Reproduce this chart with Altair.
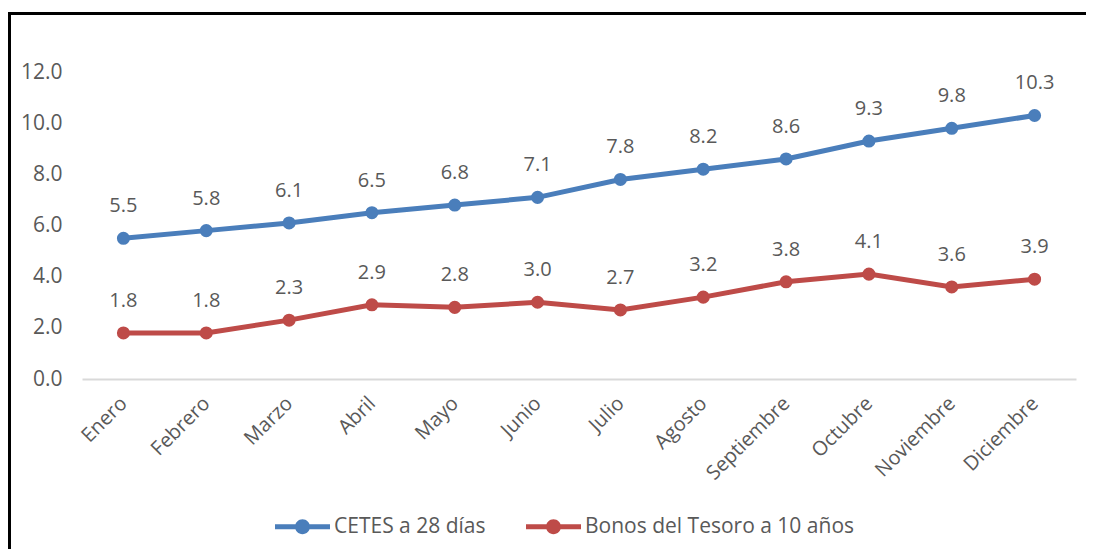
import altair as alt
import pandas as pd

months = ["Enero", "Febrero", "Marzo", "Abril", "Mayo", "Junio", "Julio",
          "Agosto", "Septiembre", "Octubre", "Noviembre", "Diciembre"]
cetes = [5.5, 5.8, 6.1, 6.5, 6.8, 7.1, 7.8, 8.2, 8.6, 9.3, 9.8, 10.3]
bonos = [1.8, 1.8, 2.3, 2.9, 2.8, 3.0, 2.7, 3.2, 3.8, 4.1, 3.6, 3.9]
series_names = ["CETES a 28 días", "Bonos del Tesoro a 10 años"]
series_colors = ["#4A7EBB", "#BE4B48"]
y_ticks = [0, 2, 4, 6, 8, 10, 12]

rows = []
for name, vals in zip(series_names, [cetes, bonos]):
    for m, v in zip(months, vals):
        rows.append({"Mes": m, "Valor": v, "Serie": name})
df = pd.DataFrame(rows)

FONT = "Open Sans"
TXT = "#595959"

x = alt.X("Mes:N", sort=months,
          scale=alt.Scale(type="point", padding=0.5),
          axis=alt.Axis(title=None, labelAngle=-45, labelAlign="right",
                        labelBaseline="middle", labelPadding=21, ticks=False,
                        domainColor="#D9D9D9", domainWidth=2,
                        labelFont=FONT, labelFontSize=20, labelColor=TXT))
y = alt.Y("Valor:Q", scale=alt.Scale(domain=[0, 12], nice=False),
          axis=alt.Axis(title=None, values=y_ticks, format=".1f", grid=False,
                        domain=False, ticks=False, labelPadding=20,
                        labelFont=FONT, labelFontSize=21, labelColor=TXT))

sym = ("M-1,-0.09H1V0.09H-1Z "
       "M0.27,0A0.27,0.27,0,1,1,-0.27,0A0.27,0.27,0,1,1,0.27,0Z")

legend = alt.Legend(title=None, orient="none", direction="horizontal",
                    legendX=193, legendY=427, padding=0,
                    symbolType=sym, symbolSize=3025,
                    symbolStrokeWidth=0, symbolOpacity=1,
                    labelFont=FONT, labelFontSize=21,
                    labelColor=TXT, labelOffset=4,
                    columnPadding=40, labelLimit=400)

color = alt.Color("Serie:N", sort=series_names,
                  scale=alt.Scale(domain=series_names, range=series_colors),
                  legend=legend)

base = alt.Chart(df)

lines = base.mark_line(strokeWidth=5).encode(x=x, y=y, color=color)
points = base.mark_point(filled=True, size=170, opacity=1, shape="circle").encode(
    x=x, y=y, color=color)
labels = base.mark_text(dy=-26, baseline="alphabetic", font=FONT, fontSize=20,
                        color=TXT).encode(
    x=x, y=y, text=alt.Text("Valor:Q", format=".1f"),
)

one = pd.DataFrame({"k": [0]})
frame_top = alt.Chart(one).mark_rule(color="black", strokeWidth=3).encode(
    x=alt.value(-74), x2=alt.value(1010), y=alt.value(-58.5))
frame_left = alt.Chart(one).mark_rule(color="black", strokeWidth=3).encode(
    x=alt.value(-72.5), y=alt.value(-60), y2=alt.value(480))

chart = alt.layer(frame_top, frame_left, lines, points, labels).properties(
    width=994, height=307,
    background="white",
    autosize=alt.AutoSizeParams(type="none"),
    padding={"left": 74, "top": 64, "right": 10, "bottom": 170},
).configure_view(strokeWidth=0)

chart.save("out.html", embed_options={"renderer": "svg", "actions": False})
